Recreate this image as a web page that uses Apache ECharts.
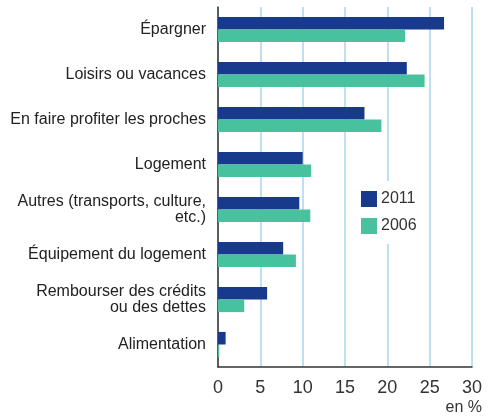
<!DOCTYPE html>
<html>
<head>
<meta charset="utf-8">
<script src="https://cdn.jsdelivr.net/npm/echarts@6/dist/echarts.min.js"></script>
<style>
  html, body { margin: 0; padding: 0; background: #fff; }
  #chart { width: 490px; height: 417px; }
</style>
</head>
<body>
<div id="chart"></div>
<script>
var categories = [
  'Épargner',
  'Loisirs ou vacances',
  'En faire profiter les proches',
  'Logement',
  'Autres (transports, culture,\netc.)',
  'Équipement du logement',
  'Rembourser des crédits\nou des dettes',
  'Alimentation'
];
var values2011 = [26.7, 22.3, 17.3, 10.0, 9.6, 7.7, 5.8, 0.9];
var values2006 = [22.1, 24.4, 19.3, 11.0, 10.9, 9.2, 3.1, 0.15];
var xTicks = [0, 5, 10, 15, 20, 25, 30];

var font = '"Liberation Sans Narrow", "Liberation Sans", sans-serif';
var chart = echarts.init(document.getElementById('chart'));

chart.setOption({
  animation: false,
  textStyle: { fontFamily: font },
  grid: { left: 218, right: 18, top: 7, bottom: 50, containLabel: false, outerBoundsMode: 'none' },
  legend: {
    orient: 'vertical',
    left: 353,
    top: 181,
    padding: [10, 10, 10, 8],
    backgroundColor: '#fff',
    itemWidth: 16,
    itemHeight: 16,
    itemGap: 11,
    icon: 'rect',
    textStyle: { fontFamily: font, fontSize: 16, color: '#333', padding: [0, 0, 0, -1] },
    data: ['2011', '2006']
  },
  xAxis: {
    type: 'value',
    min: xTicks[0],
    max: xTicks[xTicks.length - 1],
    interval: 5,
    axisLine: { show: true, lineStyle: { color: '#333', width: 1.5 } },
    axisTick: { show: false },
    axisLabel: { fontFamily: font, fontSize: 18, color: '#333', margin: 12 },
    splitLine: { show: true, lineStyle: { color: '#a8d4f0', width: 1.5 } }
  },
  yAxis: {
    type: 'category',
    inverse: true,
    data: categories,
    axisLine: { show: true, lineStyle: { color: '#333', width: 1.5 } },
    axisTick: { show: false },
    axisLabel: { fontFamily: font, fontSize: 16, color: '#222', margin: 12, lineHeight: 16, align: 'right' }
  },
  series: [
    {
      name: '2011',
      type: 'bar',
      data: values2011,
      itemStyle: { color: '#173a8d' },
      barGap: '0%',
      barCategoryGap: '44%'
    },
    {
      name: '2006',
      type: 'bar',
      data: values2006,
      itemStyle: { color: '#48c19e' },
      barGap: '0%',
      barCategoryGap: '44%'
    }
  ],
  graphic: [
    {
      type: 'text',
      right: 8,
      top: 400,
      style: { text: 'en %', font: '16px ' + font, fill: '#333' }
    }
  ]
});
</script>
</body>
</html>
